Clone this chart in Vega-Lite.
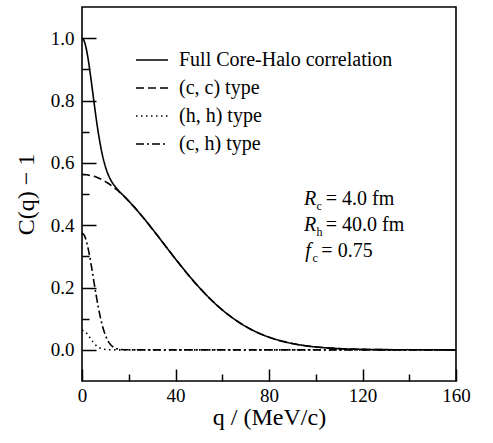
{
  "$schema": "https://vega.github.io/schema/vega-lite/v6.json",
  "width": 374,
  "height": 374,
  "autosize": {"type": "none"},
  "padding": {"left": 82, "top": 7, "right": 37, "bottom": 62},
  "background": "white",
  "config": {
    "view": {"stroke": "black", "strokeWidth": 1.6},
    "font": "Times New Roman",
    "axis": {
      "labelFont": "Times New Roman",
      "labelFontSize": 19,
      "labelColor": "black",
      "titleFont": "Times New Roman",
      "titleFontSize": 24,
      "titleFontWeight": "normal",
      "titleColor": "black",
      "tickColor": "black",
      "tickWidth": 1.5,
      "domain": false,
      "grid": false
    },
    "legend": {"labelFont": "Times New Roman", "labelLimit": 400},
    "text": {"font": "Times New Roman", "color": "black"}
  },
  "datasets": {
    "curves": [
      {"q": 0, "full": 1.0, "cc": 0.5625, "hh": 0.0625, "ch": 0.375},
      {"q": 1, "full": 0.98955, "cc": 0.56227, "hh": 0.05998, "ch": 0.3673},
      {"q": 2, "full": 0.95974, "cc": 0.56158, "hh": 0.05303, "ch": 0.34513},
      {"q": 3, "full": 0.91472, "cc": 0.56042, "hh": 0.04318, "ch": 0.31112},
      {"q": 4, "full": 0.86025, "cc": 0.55881, "hh": 0.03239, "ch": 0.26905},
      {"q": 5, "full": 0.80234, "cc": 0.55675, "hh": 0.02237, "ch": 0.22322},
      {"q": 6, "full": 0.74614, "cc": 0.55424, "hh": 0.01424, "ch": 0.17766},
      {"q": 7, "full": 0.69529, "cc": 0.55129, "hh": 0.00835, "ch": 0.13565},
      {"q": 8, "full": 0.65179, "cc": 0.5479, "hh": 0.00451, "ch": 0.09938},
      {"q": 9, "full": 0.61616, "cc": 0.54409, "hh": 0.00224, "ch": 0.06983},
      {"q": 10, "full": 0.58797, "cc": 0.53985, "hh": 0.00103, "ch": 0.04709},
      {"q": 11, "full": 0.56609, "cc": 0.53521, "hh": 0.00043, "ch": 0.03045},
      {"q": 12, "full": 0.54925, "cc": 0.53018, "hh": 0.00017, "ch": 0.0189},
      {"q": 13, "full": 0.53607, "cc": 0.52476, "hh": 0.00006, "ch": 0.01125},
      {"q": 14, "full": 0.52541, "cc": 0.51897, "hh": 0.00002, "ch": 0.00642},
      {"q": 15, "full": 0.51635, "cc": 0.51283, "hh": 0, "ch": 0.00352},
      {"q": 16, "full": 0.50818, "cc": 0.50633, "hh": 0, "ch": 0.00185},
      {"q": 18, "full": 0.49283, "cc": 0.49238, "hh": 0, "ch": 0.00045},
      {"q": 20, "full": 0.47734, "cc": 0.47725, "hh": 0, "ch": 0.00009},
      {"q": 22, "full": 0.46106, "cc": 0.46105, "hh": 0, "ch": 0.00001},
      {"q": 25, "full": 0.43511, "cc": 0.43511, "hh": 0, "ch": 0},
      {"q": 30, "full": 0.38863, "cc": 0.38863, "hh": 0, "ch": 0},
      {"q": 35, "full": 0.34002, "cc": 0.34002, "hh": 0, "ch": 0},
      {"q": 40, "full": 0.29147, "cc": 0.29147, "hh": 0, "ch": 0},
      {"q": 45, "full": 0.24478, "cc": 0.24478, "hh": 0, "ch": 0},
      {"q": 50, "full": 0.20136, "cc": 0.20136, "hh": 0, "ch": 0},
      {"q": 55, "full": 0.1623, "cc": 0.1623, "hh": 0, "ch": 0},
      {"q": 60, "full": 0.12814, "cc": 0.12814, "hh": 0, "ch": 0},
      {"q": 65, "full": 0.09912, "cc": 0.09912, "hh": 0, "ch": 0},
      {"q": 70, "full": 0.07512, "cc": 0.07512, "hh": 0, "ch": 0},
      {"q": 75, "full": 0.05577, "cc": 0.05577, "hh": 0, "ch": 0},
      {"q": 80, "full": 0.04055, "cc": 0.04055, "hh": 0, "ch": 0},
      {"q": 85, "full": 0.0289, "cc": 0.0289, "hh": 0, "ch": 0},
      {"q": 90, "full": 0.02017, "cc": 0.02017, "hh": 0, "ch": 0},
      {"q": 95, "full": 0.01379, "cc": 0.01379, "hh": 0, "ch": 0},
      {"q": 100, "full": 0.00924, "cc": 0.00924, "hh": 0, "ch": 0},
      {"q": 110, "full": 0.0039, "cc": 0.0039, "hh": 0, "ch": 0},
      {"q": 120, "full": 0.00151, "cc": 0.00151, "hh": 0, "ch": 0},
      {"q": 130, "full": 0.00054, "cc": 0.00054, "hh": 0, "ch": 0},
      {"q": 140, "full": 0.00018, "cc": 0.00018, "hh": 0, "ch": 0},
      {"q": 150, "full": 0.00005, "cc": 0.00005, "hh": 0, "ch": 0},
      {"q": 160, "full": 0.00002, "cc": 0.00002, "hh": 0, "ch": 0}
    ],
    "symbols": [
      {"x": 95, "y": 0.484, "t": "R"},
      {"x": 95, "y": 0.401, "t": "R"},
      {"x": 95.5, "y": 0.318, "t": "f"}
    ],
    "subs": [
      {"x": 100.3, "y": 0.462, "t": "c"},
      {"x": 100.3, "y": 0.379, "t": "h"},
      {"x": 98.6, "y": 0.296, "t": "c"}
    ],
    "values": [
      {"x": 104.3, "y": 0.484, "t": "= 4.0 fm"},
      {"x": 104.3, "y": 0.401, "t": "= 40.0 fm"},
      {"x": 102.4, "y": 0.318, "t": "= 0.75"}
    ]
  },
  "resolve": {"axis": {"x": "independent", "y": "independent"}},
  "layer": [
    {
      "data": {"name": "curves"},
      "transform": [{"fold": ["full", "cc", "hh", "ch"], "as": ["series", "value"]}],
      "mark": {"type": "line", "color": "black", "strokeWidth": 1.6, "interpolate": "monotone"},
      "encoding": {
        "x": {
          "field": "q", "type": "quantitative",
          "scale": {"domain": [0, 160], "nice": false, "zero": false},
          "axis": {"orient": "bottom", "values": [0, 40, 80, 120, 160], "tickSize": -12, "labelPadding": 17, "title": "q / (MeV/c)", "titlePadding": 0, "labelFlush": false}
        },
        "y": {
          "field": "value", "type": "quantitative",
          "scale": {"domain": [-0.1, 1.1], "nice": false, "zero": false},
          "axis": {"orient": "left", "values": [0, 0.2, 0.4, 0.6, 0.8, 1.0], "format": ".1f", "tickSize": -14, "labelPadding": 22, "title": "C(q) − 1", "titlePadding": 12, "labelFlush": false}
        },
        "strokeDash": {
          "field": "series", "type": "nominal",
          "scale": {"domain": ["full", "cc", "hh", "ch"], "range": [[1, 0], [8, 4], [1.5, 3.5], [8, 3, 2, 3]]},
          "legend": {
            "orient": "none", "legendX": 60, "legendY": 43, "title": null, "padding": 0,
            "symbolType": "M-2,0L2,0", "symbolSize": 256, "symbolStrokeWidth": 1.6, "symbolStrokeColor": "black",
            "labelFont": "Times New Roman", "labelFontSize": 20, "labelColor": "black", "labelOffset": 17, "rowPadding": 8, "labelLimit": 400,
            "labelExpr": "{'full': 'Full Core-Halo correlation', 'cc': '(c, c) type', 'hh': '(h, h) type', 'ch': '(c, h) type'}[datum.label]"
          }
        }
      }
    },
    {
      "data": {"name": "symbols"},
      "mark": {"type": "text", "fontSize": 20, "fontStyle": "italic", "align": "left", "baseline": "middle"},
      "encoding": {
        "x": {"field": "x", "type": "quantitative", "axis": {"orient": "bottom", "values": [20, 60, 100, 140], "tickSize": -7, "labels": false, "title": null}},
        "y": {"field": "y", "type": "quantitative", "axis": {"orient": "left", "values": [0.1, 0.3, 0.5, 0.7, 0.9], "tickSize": -7, "labels": false, "title": null}},
        "text": {"field": "t"}
      }
    },
    {
      "data": {"name": "subs"},
      "mark": {"type": "text", "fontSize": 12, "align": "left", "baseline": "middle"},
      "encoding": {
        "x": {"field": "x", "type": "quantitative", "axis": null},
        "y": {"field": "y", "type": "quantitative", "axis": null},
        "text": {"field": "t"}
      }
    },
    {
      "data": {"name": "values"},
      "mark": {"type": "text", "fontSize": 20, "align": "left", "baseline": "middle"},
      "encoding": {
        "x": {"field": "x", "type": "quantitative", "axis": null},
        "y": {"field": "y", "type": "quantitative", "axis": null},
        "text": {"field": "t"}
      }
    }
  ]
}
